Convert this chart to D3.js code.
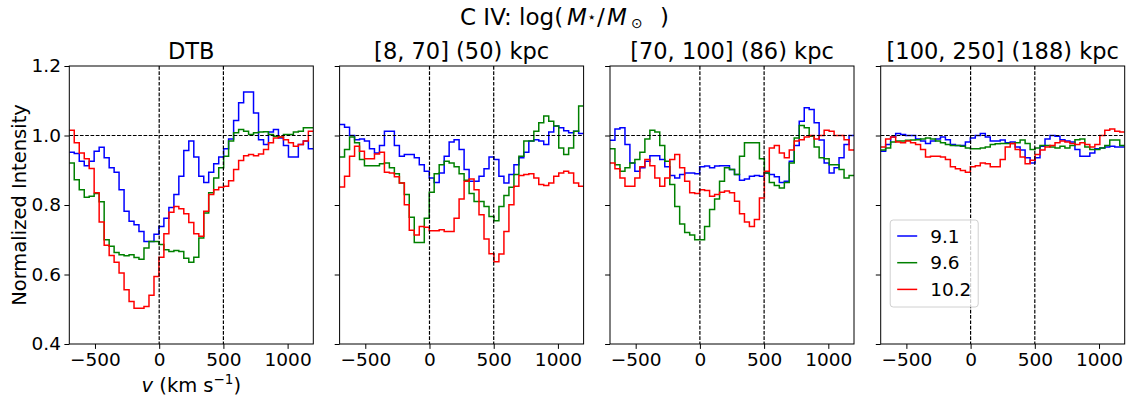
<!DOCTYPE html>
<html><head><meta charset="utf-8">
<script src="https://cdn.jsdelivr.net/npm/d3@7"></script>
<style>
body{margin:0;background:#fff;}
svg{font-family:"DejaVu Sans",sans-serif;}
</style></head>
<body><svg id="c" width="1128" height="401"></svg>
<script>
// ---- data ----
const velocity = [-681,-642,-603,-564,-526,-487,-448,-409,-370,-332,-293,-254,-215,-177,-138,-99,-60,-21,17,56,95,134,172,211,250,289,328,366,405,444,483,521,560,599,638,677,715,754,793,832,870,909,948,987,1026,1064,1103,1142,1181];
const panelTitles = ["DTB", "[8, 70] (50) kpc", "[70, 100] (86) kpc", "[100, 250] (188) kpc"];
const seriesNames = ["9.1", "9.6", "10.2"];
const xTicks = [-500, 0, 500, 1000];
const yTicks = [0.4, 0.6, 0.8, 1.0, 1.2];
const refVel = [0, 500];

const dtb_91 = [0.952,0.948,0.926,0.913,0.926,0.955,0.966,0.936,0.907,0.894,0.844,0.782,0.753,0.743,0.724,0.695,0.695,0.716,0.738,0.762,0.793,0.83,0.883,0.957,0.984,0.938,0.883,0.865,0.894,0.919,0.938,0.962,0.99,1.043,1.094,1.125,1.125,1.065,0.988,0.974,1.01,1.017,0.993,0.971,0.938,0.938,0.974,0.984,0.962];
const dtb_96 = [0.921,0.873,0.844,0.822,0.825,0.833,0.809,0.7,0.681,0.663,0.657,0.654,0.657,0.649,0.644,0.676,0.695,0.695,0.686,0.671,0.666,0.669,0.666,0.647,0.635,0.65,0.705,0.777,0.835,0.878,0.907,0.94,0.984,1.008,1.017,1.0125,1.003,1.008,1.01,1.011,1.003,0.998,0.996,1.003,1.003,1.01,1.0125,1.022,1.022];
const dtb_102 = [1.015,0.979,0.95,0.933,0.905,0.835,0.751,0.684,0.655,0.635,0.604,0.556,0.522,0.503,0.503,0.508,0.54,0.594,0.65,0.717,0.779,0.796,0.789,0.775,0.75,0.717,0.71,0.782,0.83,0.844,0.851,0.854,0.87,0.902,0.928,0.942,0.945,0.942,0.947,0.96,0.979,0.993,0.996,0.988,0.979,0.969,0.974,0.984,1.0125];

const r1_91 = [1.032,1.024,1.0,0.988,0.99,0.984,0.962,0.95,0.971,1.0125,1.0125,0.971,0.94,0.945,0.945,0.936,0.916,0.897,0.878,0.865,0.892,0.94,0.981,0.988,0.96,0.902,0.868,0.868,0.883,0.904,0.938,0.931,0.883,0.863,0.888,0.916,0.936,0.952,0.984,0.988,0.984,0.974,1.01,1.027,1.022,1.014,1.008,1.0125,1.006];
const r1_96 = [0.938,0.96,0.996,0.979,0.931,0.913,0.913,0.913,0.919,0.921,0.907,0.89,0.863,0.83,0.765,0.692,0.692,0.762,0.837,0.89,0.916,0.926,0.921,0.91,0.89,0.871,0.833,0.81,0.81,0.796,0.767,0.755,0.796,0.827,0.851,0.888,0.94,0.984,0.984,1.0125,1.037,1.056,1.041,1.027,0.964,0.945,0.964,1.0125,1.085];
const r1_102 = [0.852,0.883,0.94,0.969,0.955,0.933,0.933,0.947,0.952,0.894,0.892,0.881,0.863,0.801,0.727,0.714,0.738,0.736,0.726,0.726,0.729,0.724,0.724,0.762,0.817,0.868,0.875,0.844,0.772,0.702,0.66,0.637,0.659,0.724,0.801,0.854,0.885,0.888,0.89,0.878,0.859,0.856,0.863,0.883,0.892,0.897,0.892,0.863,0.854];

const r2_91 = [0.986,1.019,1.022,0.974,0.921,0.897,0.907,0.926,0.942,0.942,0.931,0.91,0.885,0.878,0.888,0.892,0.892,0.89,0.91,0.912,0.907,0.912,0.913,0.913,0.902,0.888,0.871,0.875,0.883,0.885,0.883,0.892,0.888,0.881,0.865,0.868,0.926,0.971,1.041,1.08,1.075,1.037,0.987,0.921,0.892,0.907,0.936,0.974,1.0];
const r2_96 = [0.962,0.916,0.897,0.907,0.921,0.931,0.952,0.99,1.015,1.01,0.971,0.926,0.859,0.796,0.745,0.721,0.714,0.7,0.7,0.738,0.787,0.817,0.868,0.907,0.902,0.888,0.94,0.979,0.979,0.979,0.933,0.892,0.865,0.856,0.849,0.865,0.921,0.993,1.029,1.022,0.998,0.967,0.936,0.933,0.916,0.916,0.902,0.878,0.885];
const r2_102 = [0.921,0.904,0.878,0.854,0.854,0.878,0.91,0.931,0.913,0.878,0.854,0.878,0.931,0.945,0.907,0.868,0.835,0.833,0.844,0.842,0.825,0.83,0.837,0.84,0.835,0.811,0.775,0.751,0.738,0.758,0.82,0.897,0.964,0.971,0.95,0.936,0.958,0.984,0.988,0.996,1.0,0.99,1.0,1.015,1.0125,1.0,1.0,0.988,0.958];

const r3_91 = [0.955,0.974,0.996,1.006,1.003,1.0,1.0,0.99,0.984,0.977,0.984,0.99,0.996,0.988,0.974,0.971,0.971,0.981,0.993,1.0,1.006,0.996,0.984,0.984,0.987,0.979,0.981,0.967,0.958,0.936,0.921,0.936,0.969,0.99,1.0,0.998,0.988,0.984,0.981,0.96,0.94,0.94,0.95,0.962,0.964,0.967,0.969,0.967,0.967];
const r3_96 = [0.958,0.964,0.981,0.984,0.984,0.986,0.987,0.988,0.99,0.993,0.99,0.984,0.979,0.974,0.971,0.971,0.969,0.964,0.962,0.962,0.964,0.967,0.974,0.976,0.977,0.977,0.977,0.979,0.987,0.977,0.96,0.964,0.971,0.971,0.967,0.964,0.969,0.964,0.971,0.988,0.99,0.967,0.96,0.96,0.964,0.971,0.987,0.987,0.971];
const r3_102 = [0.967,0.99,0.996,0.981,0.979,0.984,0.979,0.974,0.96,0.938,0.94,0.94,0.938,0.931,0.91,0.904,0.899,0.894,0.91,0.913,0.921,0.919,0.91,0.91,0.931,0.967,0.977,0.96,0.938,0.919,0.929,0.945,0.958,0.967,0.971,0.979,0.984,0.981,0.977,0.974,0.979,0.974,0.967,0.974,1.0,1.015,1.019,1.0125,1.01];

const panelSeries = [
  [dtb_91, dtb_96, dtb_102],
  [r1_91, r1_96, r1_102],
  [r2_91, r2_96, r2_102],
  [r3_91, r3_96, r3_102]
];
const colors = ["#0000ff", "#008000", "#ff0000"];

// ---- layout ----
const svg = d3.select("#c");
const panelLeft = [69.3, 339.6, 610, 880.7];
const plotTop = 66, W = 244, H = 278;
const xDomain = [-700, 1200];
const x = d3.scaleLinear().domain(xDomain).range([0, W]);
const y = d3.scaleLinear().domain([0.4, 1.2]).range([H, 0]);
const fmtMinus = d => (d < 0 ? "\u2212" + Math.abs(d) : String(d));
const TICK_FS = 18.5, LABEL_FS = 19.5, TITLE_FS = 22.5;

const defs = svg.append("defs");
defs.append("clipPath").attr("id", "clip").append("rect").attr("width", W).attr("height", H);

panelSeries.forEach((series, p) => {
  const g = svg.append("g").attr("transform", `translate(${panelLeft[p]},${plotTop})`);
  const plot = g.append("g").attr("clip-path", "url(#clip)");

  series.forEach((vals, s) => {
    const pts = [[xDomain[0], vals[0]]].concat(velocity.map((v, i) => [v, vals[i]]), [[xDomain[1], vals[vals.length - 1]]]);
    plot.append("path")
      .attr("d", d3.line().x(d => x(d[0])).y(d => y(d[1])).curve(d3.curveStep)(pts))
      .attr("fill", "none").attr("stroke", colors[s]).attr("stroke-width", 1.5)
      .attr("stroke-linejoin", "miter");
  });

  plot.append("line").attr("x1", 0).attr("x2", W).attr("y1", y(1)).attr("y2", y(1))
    .attr("stroke", "#000").attr("stroke-width", 1.2).attr("stroke-dasharray", "3.7,1.6");
  refVel.forEach(v => {
    plot.append("line").attr("x1", x(v)).attr("x2", x(v)).attr("y1", 0).attr("y2", H)
      .attr("stroke", "#000").attr("stroke-width", 1.2).attr("stroke-dasharray", "3.7,1.6");
  });

  const xa = g.append("g").attr("transform", `translate(0,${H})`)
    .call(d3.axisBottom(x).tickValues(xTicks).tickFormat(fmtMinus).tickSize(4.9).tickPadding(3.5));
  const ya = g.append("g")
    .call(d3.axisLeft(y).tickValues(yTicks).tickFormat(p === 0 ? d3.format(".1f") : () => "").tickSize(4.9).tickPadding(3.5));
  [xa, ya].forEach(a => {
    a.select(".domain").remove();
    a.selectAll("line").attr("stroke", "#000").attr("stroke-width", 1);
    a.selectAll("text").attr("font-size", TICK_FS).attr("fill", "#000").attr("font-family", "DejaVu Sans");
  });
  g.append("rect").attr("width", W).attr("height", H).attr("fill", "none").attr("stroke", "#000").attr("stroke-width", 1);

  g.append("text").attr("x", W / 2).attr("y", -7).attr("text-anchor", "middle")
    .attr("font-size", TITLE_FS).text(panelTitles[p]);
});

// suptitle (math-style pieces)
const tg = svg.append("g").attr("font-size", 23);
tg.append("text").attr("x", 460).attr("y", 25).text("C IV: log(");
tg.append("text").attr("x", 567).attr("y", 25).attr("font-style", "italic").text("M");
tg.append("text").attr("x", 587).attr("y", 22).attr("font-size", 15).text("\u22c6");
tg.append("text").attr("x", 597).attr("y", 25).text("/");
tg.append("text").attr("x", 607).attr("y", 25).attr("font-style", "italic").text("M");
tg.append("text").attr("x", 631).attr("y", 27.5).attr("font-size", 14).text("\u2299");
tg.append("text").attr("x", 660).attr("y", 25).text(")");

svg.append("text").attr("transform", `translate(26,${plotTop + H / 2}) rotate(-90)`)
  .attr("text-anchor", "middle").attr("font-size", LABEL_FS).text("Normalized Intensity");
const xl = svg.append("text").attr("x", panelLeft[0] + W / 2).attr("y", 392).attr("text-anchor", "middle").attr("font-size", LABEL_FS);
xl.append("tspan").attr("font-style", "italic").text("v");
xl.append("tspan").text(" (km s");
xl.append("tspan").attr("font-size", 13.5).attr("dy", -8).text("\u22121");
xl.append("tspan").attr("dy", 8).text(")");

const lg = svg.append("g").attr("transform", `translate(${panelLeft[3] + 9.5},220)`);
lg.append("rect").attr("width", 88).attr("height", 87).attr("rx", 3)
  .attr("fill", "#fff").attr("fill-opacity", 0.8).attr("stroke", "#d0d0d0").attr("stroke-width", 1);
seriesNames.forEach((n, i) => {
  const yy = 16 + i * 26.7;
  lg.append("line").attr("x1", 7).attr("x2", 27).attr("y1", yy).attr("y2", yy)
    .attr("stroke", colors[i]).attr("stroke-width", 1.5);
  lg.append("text").attr("x", 40).attr("y", yy + 6.5).attr("font-size", 18.5).text(n);
});
</script></body></html>
